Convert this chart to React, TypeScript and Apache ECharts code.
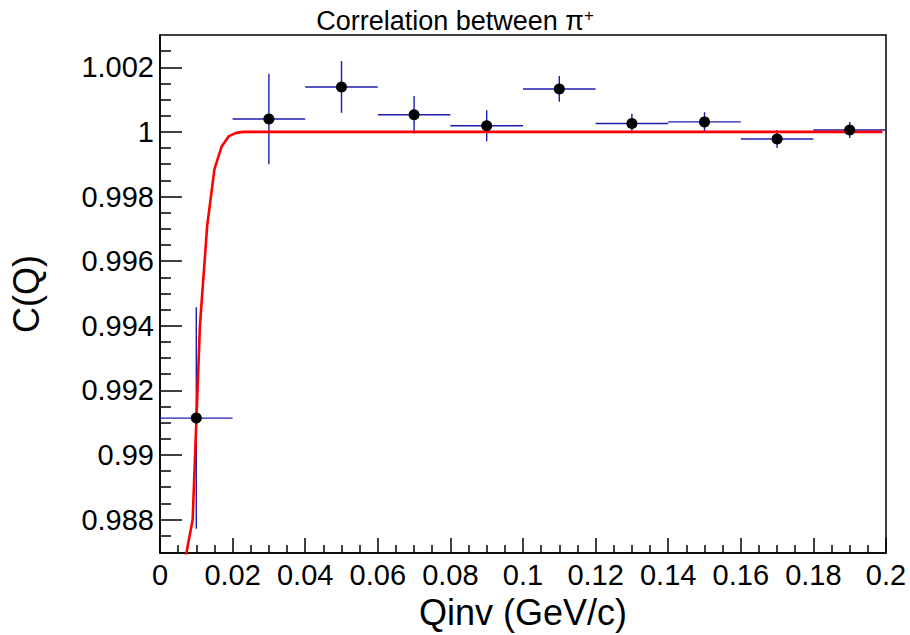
import React, { useEffect, useRef } from "react";
import * as echarts from "echarts";

// Histogram bins (bin centers), values and errors
const binCenters = [0.01, 0.03, 0.05, 0.07, 0.09, 0.11, 0.13, 0.15, 0.17, 0.19];
const binHalfWidth = 0.01;
const corrValues = [0.99114, 1.0004, 1.00139, 1.00053, 1.00019, 1.00133, 1.00026, 1.00031, 0.99978, 1.00006];
const corrErrors = [0.00343, 0.0014, 0.0008, 0.00058, 0.00048, 0.0004, 0.0003, 0.0003, 0.00028, 0.00025];

// Fit curve samples
const fitQ = [0.007, 0.009, 0.011, 0.013, 0.015, 0.017, 0.019, 0.021, 0.023, 0.199];
const fitC = [0.9868, 0.988, 0.994, 0.9971, 0.99885, 0.99955, 0.99987, 0.99997, 1.0, 1.0];

// Axis ticks
const yMajorTicks = [0.988, 0.99, 0.992, 0.994, 0.996, 0.998, 1.0, 1.002];
const yMinorTicks = [
  0.9875, 0.9885, 0.989, 0.9895, 0.9905, 0.991, 0.9915, 0.9925, 0.993, 0.9935,
  0.9945, 0.995, 0.9955, 0.9965, 0.997, 0.9975, 0.9985, 0.999, 0.9995, 1.0005,
  1.001, 1.0015, 1.0025,
];
const yMin = 0.98696;
const yMax = 1.003;
const xMin = 0;
const xMax = 0.2;
const xInterval = 0.02;

const FONT = "'Liberation Sans', Arial, Helvetica, sans-serif";
const fmt = (v: number) => String(+Number(v).toFixed(4));

export default function App() {
  const ref = useRef<HTMLDivElement>(null);
  useEffect(() => {
    if (!ref.current) return;
    const chart = echarts.init(ref.current, undefined, { renderer: "svg" });
    const blue = "#1c1cb0";
    chart.setOption({
      animation: false,
      backgroundColor: "#ffffff",
      textStyle: { fontFamily: FONT },
      title: {
        text: "Correlation between π{s|+}",
        left: "center",
        top: 2,
        textStyle: {
          fontFamily: FONT,
          fontSize: 27,
          fontWeight: "normal",
          color: "#000",
          rich: {
            s: { fontFamily: FONT, fontSize: 17, color: "#000", verticalAlign: "top", padding: [0, 0, 11, 0] },
          },
        },
      },
      grid: {
        left: 160,
        right: 24,
        top: 35,
        bottom: 81,
        show: true,
        borderColor: "#000",
        borderWidth: 1.5,
        backgroundColor: "transparent",
      },
      xAxis: {
        type: "value",
        min: xMin,
        max: xMax,
        interval: xInterval,
        name: "Qinv (GeV/c)",
        nameLocation: "middle",
        nameGap: 33,
        nameTextStyle: { fontFamily: FONT, fontSize: 36, color: "#000" },
        axisLine: { show: true, onZero: false, lineStyle: { color: "#000", width: 1.5 } },
        axisTick: { show: true, inside: true, length: 15, lineStyle: { color: "#000", width: 1.5 } },
        minorTick: { show: true, splitNumber: 4, length: 8, lineStyle: { color: "#000", width: 1.5 } },
        axisLabel: { fontFamily: FONT, fontSize: 29, color: "#000", margin: 7, formatter: fmt },
        splitLine: { show: false },
        minorSplitLine: { show: false },
      },
      yAxis: [
        {
          type: "value",
          min: yMin,
          max: yMax,
          position: "left",
          name: "C(Q)",
          nameLocation: "middle",
          nameRotate: 90,
          nameGap: 116,
          nameTextStyle: { fontFamily: FONT, fontSize: 36, color: "#000" },
          axisLine: { show: true, onZero: false, lineStyle: { color: "#000", width: 1.5 } },
          axisTick: {
            show: true,
            inside: true,
            length: 22,
            customValues: yMajorTicks,
            lineStyle: { color: "#000", width: 1.5 },
          },
          axisLabel: {
            fontFamily: FONT,
            fontSize: 29,
            color: "#000",
            margin: 6,
            customValues: yMajorTicks,
            formatter: fmt,
          },
          splitLine: { show: false },
        },
        {
          type: "value",
          min: yMin,
          max: yMax,
          position: "left",
          axisLine: { show: false },
          axisTick: {
            show: true,
            inside: true,
            length: 11,
            customValues: yMinorTicks,
            lineStyle: { color: "#000", width: 1.5 },
          },
          axisLabel: { show: false },
          splitLine: { show: false },
        },
      ],
      series: [
        {
          type: "line",
          name: "fit",
          data: fitQ.map((q, i) => [q, fitC[i]]),
          showSymbol: false,
          symbol: "none",
          clip: true,
          lineStyle: { color: "#ff0000", width: 2.6 },
          z: 3,
        },
        {
          type: "custom",
          name: "errors",
          data: binCenters.map((x, i) => [x, corrValues[i], corrErrors[i]]),
          encode: { x: 0, y: 1 },
          z: 2,
          renderItem: (params: any, api: any) => {
            const x = api.value(0);
            const y = api.value(1);
            const e = api.value(2);
            const pL = api.coord([x - binHalfWidth, y]);
            const pR = api.coord([x + binHalfWidth, y]);
            const pT = api.coord([x, y + e]);
            const pB = api.coord([x, y - e]);
            return {
              type: "group",
              children: [
                {
                  type: "line",
                  shape: { x1: pL[0], y1: pL[1], x2: pR[0], y2: pR[1] },
                  style: { stroke: blue, lineWidth: 1.4 },
                },
                {
                  type: "line",
                  shape: { x1: pT[0], y1: pT[1], x2: pB[0], y2: pB[1] },
                  style: { stroke: blue, lineWidth: 1.4 },
                },
              ],
            };
          },
        },
        {
          type: "scatter",
          name: "points",
          data: binCenters.map((x, i) => [x, corrValues[i]]),
          symbol: "circle",
          symbolSize: 11,
          itemStyle: { color: "#000", opacity: 1 },
          z: 4,
        },
      ],
    });
    return () => chart.dispose();
  }, []);
  return (
    <div
      ref={ref}
      style={{ position: "fixed", left: 0, top: 0, width: 910, height: 635, background: "#fff" }}
    />
  );
}
